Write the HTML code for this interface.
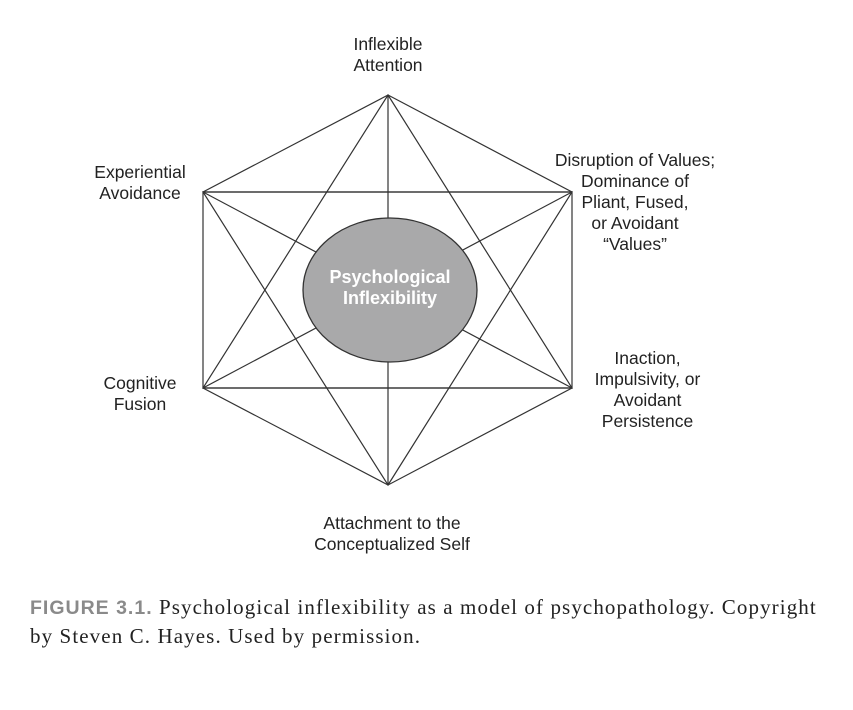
<!DOCTYPE html>
<html><head><style>
body{margin:0;background:#fff;width:853px;height:710px;overflow:hidden;position:relative;font-family:"Liberation Sans",sans-serif;}
.l{position:absolute;font-size:17.5px;line-height:21px;color:#222;text-align:center;white-space:nowrap;}
.cap{position:absolute;left:30px;top:593px;font-family:"Liberation Serif",serif;font-size:21px;letter-spacing:1.1px;line-height:28px;color:#222;white-space:nowrap;}
.cap b{font-family:"Liberation Sans",sans-serif;color:#8a8a8a;font-weight:bold;font-size:19.5px;letter-spacing:1px;}
</style></head><body>
<svg width="853" height="710" style="position:absolute;left:0;top:0">
<g stroke="#333" stroke-width="1.2" fill="none">
<polygon points="388,95 572,192 572,388 388,485 203,388 203,192"/>
<line x1="388" y1="95" x2="388" y2="485"/>
<line x1="203" y1="192" x2="572" y2="388"/>
<line x1="572" y1="192" x2="203" y2="388"/>
<line x1="203" y1="192" x2="572" y2="192"/>
<line x1="203" y1="388" x2="572" y2="388"/>
<polygon points="388,95 572,388 203,388"/>
<polygon points="388,485 572,192 203,192"/>
</g>
<ellipse cx="390" cy="290" rx="87" ry="72" fill="#a9a9aa" stroke="#333" stroke-width="1.3"/>
<text x="390" y="283" text-anchor="middle" font-family="Liberation Sans" font-size="18" fill="#fff" font-weight="bold">Psychological</text>
<text x="390" y="304" text-anchor="middle" font-family="Liberation Sans" font-size="18" fill="#fff" font-weight="bold">Inflexibility</text>
</svg>
<div class="l" style="left:338px;top:34px;width:100px">Inflexible<br>Attention</div>
<div class="l" style="left:75px;top:162px;width:130px">Experiential<br>Avoidance</div>
<div class="l" style="left:545px;top:150px;width:180px">Disruption of Values;<br>Dominance of<br>Pliant, Fused,<br>or Avoidant<br>“Values”</div>
<div class="l" style="left:575px;top:348px;width:145px">Inaction,<br>Impulsivity, or<br>Avoidant<br>Persistence</div>
<div class="l" style="left:80px;top:373px;width:120px">Cognitive<br>Fusion</div>
<div class="l" style="left:292px;top:513px;width:200px">Attachment to the<br>Conceptualized Self</div>
<div class="cap"><b>FIGURE 3.1.</b> Psychological inflexibility as a model of psychopathology. Copyright<br>by Steven C. Hayes. Used by permission.</div>
</body></html>
